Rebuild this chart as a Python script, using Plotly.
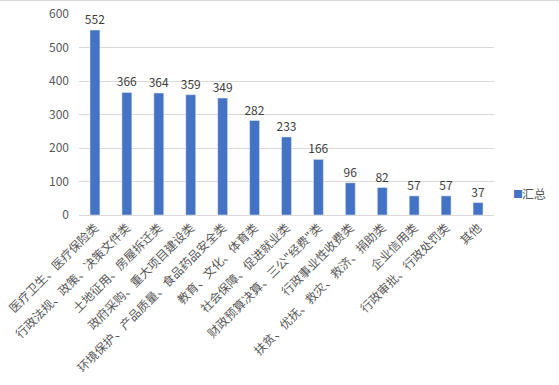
import plotly.graph_objects as go

categories = [
    "医疗卫生、医疗保险类",
    "行政法规、政策、决策文件类",
    "土地征用、房屋拆迁类",
    "政府采购、重大项目建设类",
    "环境保护、产品质量、食品药品安全类",
    "教育、文化、体育类",
    "社会保障、促进就业类",
    "财政预算决算、三公\"经费\"类",
    "行政事业性收费类",
    "扶贫、优抚、救灾、救济、捐助类",
    "企业信用类",
    "行政审批、行政处罚类",
    "其他",
]
values = [552, 366, 364, 359, 349, 282, 233, 166, 96, 82, 57, 57, 37]
series_name = "汇总"
y_ticks = [0, 100, 200, 300, 400, 500, 600]

W, H = 559, 385
ml, mr, mt, mb = 79, 65, 14, 170
pw = W - ml - mr
ph = H - mt - mb

font = "Noto Sans CJK SC, Microsoft YaHei, sans-serif"
bar_color = "#4472C4"

fig = go.Figure()
fig.add_trace(go.Bar(
    x=categories, y=values, name=series_name,
    marker=dict(color=bar_color),
    text=values, textposition="outside", constraintext="none",
    textfont=dict(size=12, color="#404040", family=font),
    cliponaxis=False,
    showlegend=False,
))

leg_y = (H - mb - 193) / ph
fig.update_layout(
    width=W, height=H,
    margin=dict(l=ml, r=mr, t=mt, b=mb, autoexpand=False),
    paper_bgcolor="white", plot_bgcolor="white",
    bargap=0.69,
    font=dict(family=font, size=12, color="#595959"),
    xaxis=dict(
        tickangle=-45, showgrid=False, showline=True, linecolor="#d9d9d9",
        tickfont=dict(size=12, color="#595959"), ticks="", automargin=False,
    ),
    yaxis=dict(
        range=[0, 600], tickvals=y_ticks, showgrid=True, gridcolor="#d9d9d9",
        zeroline=False, showline=False, ticks="", automargin=False,
        tickfont=dict(size=12, color="#595959"), ticklabelstandoff=9,
    ),
    annotations=[
        dict(
            xref="paper", yref="paper",
            x=(511 - ml) / pw, y=leg_y,
            xanchor="left", yanchor="middle", showarrow=False,
            text="■", font=dict(size=10, color=bar_color, family=font),
        ),
        dict(
            xref="paper", yref="paper",
            x=(520 - ml) / pw, y=leg_y,
            xanchor="left", yanchor="middle", showarrow=False,
            text=series_name, font=dict(size=12, color="#595959", family=font),
        ),
    ],
    shapes=[dict(
        type="line", xref="paper", yref="paper",
        x0=-ml / pw, x1=1 + mr / pw,
        y0=1 + (mt - 0.5) / ph, y1=1 + (mt - 0.5) / ph,
        line=dict(color="#d9d9d9", width=1),
    )],
)

fig.write_html(
    "out.html",
    config={"displayModeBar": False},
    post_script="document.body.style.margin='0';document.body.style.overflow='hidden';",
)
